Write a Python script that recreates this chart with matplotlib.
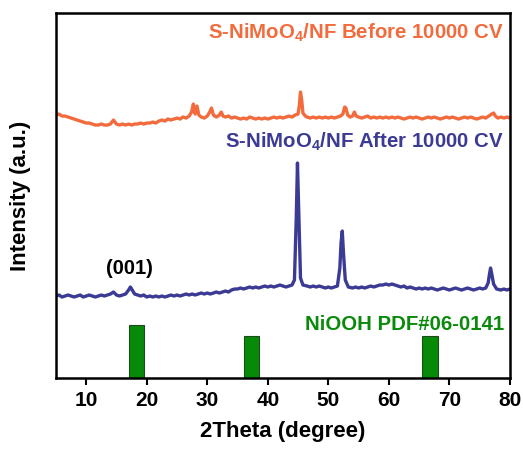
import matplotlib
matplotlib.use("Agg")
import matplotlib.pyplot as plt

plt.rcParams['font.family'] = ['Liberation Sans', 'DejaVu Sans']
plt.rcParams['font.weight'] = 'bold'
plt.rcParams['mathtext.fontset'] = 'custom'
plt.rcParams['mathtext.rm'] = 'Liberation Sans'
plt.rcParams['mathtext.bf'] = 'Liberation Sans:bold'

# Before 10000 CV (orange)
before_x = [5, 5.5, 6, 6.5, 7, 7.5, 8, 8.5, 9, 9.5,
            10, 10.5, 11, 11.5, 12, 12.5, 13, 13.5, 14, 14.5,
            15, 15.5, 16, 16.5, 17, 17.5, 18, 18.5, 19, 19.5,
            20, 20.5, 21, 21.5, 22, 22.5, 23, 23.5, 24, 24.5,
            25, 25.5, 26, 26.5, 27, 27.4, 27.7, 28.0, 28.3, 28.6,
            29, 29.5, 30, 30.4, 30.7, 31, 31.5, 32, 32.3, 32.6,
            33, 33.5, 34, 34.5, 35, 35.5, 36, 36.5, 37, 37.5,
            38, 38.5, 39, 39.5, 40, 40.5, 41, 41.5, 42, 42.5,
            43, 43.5, 44, 44.5, 45, 45.2, 45.4, 45.6, 45.8, 46.2,
            46.5, 47, 47.5, 48, 48.5, 49, 49.5, 50, 50.5, 51,
            51.5, 52, 52.4, 52.7, 52.9, 53.2, 53.6, 54, 54.3, 54.6,
            55, 55.5, 56, 56.5, 57, 57.5, 58, 58.5, 59, 59.5,
            60, 60.5, 61, 61.5, 62, 62.5, 63, 63.5, 64, 64.5,
            65, 65.5, 66, 66.5, 67, 67.5, 68, 68.5, 69, 69.5,
            70, 70.5, 71, 71.5, 72, 72.5, 73, 73.5, 74, 74.5,
            75, 75.5, 76, 76.5, 77, 77.3, 77.6, 78, 78.5, 79,
            79.5, 80]
before_y = [263, 264, 262, 262, 261, 260, 259, 258, 257, 256,
            255, 255, 254, 253, 253, 254, 253, 253, 254, 258,
            254, 253, 254, 253, 254, 253, 254, 254, 255, 254,
            255, 255, 256, 255, 257, 258, 257, 259, 258, 259,
            260, 259, 261, 260, 262, 266, 274, 264, 272, 263,
            261, 260, 262, 266, 270, 263, 261, 263, 266, 262,
            261, 262, 260, 261, 260, 259, 260, 259, 261, 260,
            259, 260, 259, 260, 259, 260, 261, 260, 261, 260,
            261, 262, 261, 263, 264, 272, 286, 278, 265, 262,
            261, 260, 261, 260, 261, 260, 261, 260, 261, 260,
            261, 262, 264, 271, 270, 263, 261, 262, 266, 262,
            261, 260, 261, 262, 260, 261, 260, 261, 260, 261,
            260, 261, 260, 261, 260, 259, 260, 261, 260, 261,
            260, 259, 260, 261, 260, 261, 260, 259, 260, 261,
            260, 261, 260, 259, 260, 261, 260, 261, 260, 259,
            260, 261, 260, 262, 264, 265, 262, 260, 261, 260,
            261, 260]

# After 10000 CV (navy)
after_x = [5, 5.5, 6, 6.5, 7, 7.5, 8, 8.5, 9, 9.5,
           10, 10.5, 11, 11.5, 12, 12.5, 13, 13.5, 14, 14.5,
           15, 15.5, 16, 16.5, 17, 17.3, 17.6, 18, 18.5, 19,
           19.5, 20, 20.5, 21, 21.5, 22, 22.5, 23, 23.5, 24,
           24.5, 25, 25.5, 26, 26.5, 27, 27.5, 28, 28.5, 29,
           29.5, 30, 30.5, 31, 31.5, 32, 32.5, 33, 33.5, 34,
           34.5, 35, 35.5, 36, 36.5, 37, 37.5, 38, 38.5, 39,
           39.5, 40, 40.5, 41, 41.5, 42, 42.5, 43, 43.5, 44,
           44.4, 44.7, 44.9, 45.1, 45.4, 45.8, 46.5, 47, 47.5, 48,
           48.5, 49, 49.5, 50, 50.5, 51, 51.5, 51.9, 52.1, 52.3,
           52.5, 52.8, 53.3, 54, 54.5, 55, 55.5, 56, 56.5, 57,
           57.5, 58, 58.5, 59, 59.5, 60, 60.5, 61, 61.5, 62,
           62.5, 63, 63.5, 64, 64.5, 65, 65.5, 66, 66.5, 67,
           67.5, 68, 68.5, 69, 69.5, 70, 70.5, 71, 71.5, 72,
           72.5, 73, 73.5, 74, 74.5, 75, 75.5, 76, 76.4, 76.6,
           76.8, 77.0, 77.3, 77.8, 78.5, 79, 79.5, 80]
after_y = [82, 83, 81, 82, 83, 82, 81, 82, 83, 81,
           82, 83, 82, 81, 82, 83, 82, 83, 84, 86,
           83, 82, 83, 84, 88, 91, 88, 84, 83, 82,
           83, 81, 82, 81, 82, 81, 82, 81, 82, 83,
           82, 83, 82, 83, 84, 83, 84, 83, 84, 85,
           84, 85, 84, 85, 86, 85, 86, 87, 86, 88,
           89, 89, 90, 89, 90, 91, 90, 91, 90, 91,
           92, 91, 92, 91, 92, 93, 92, 91, 92, 93,
           98, 160, 215, 170, 100, 93, 92, 91, 92, 91,
           92, 91, 90, 91, 90, 91, 92, 110, 135, 147,
           125, 98, 91, 90, 91, 90, 91, 90, 91, 92,
           91, 92, 93, 93, 94, 93, 94, 93, 92, 91,
           92, 90, 91, 90, 89, 90, 89, 90, 89, 90,
           89, 88, 89, 90, 89, 88, 89, 90, 89, 88,
           89, 90, 89, 88, 89, 90, 89, 90, 95, 103,
           110, 104, 94, 89, 88, 89, 88, 89]

# NiOOH PDF#06-0141 reference bars
ref_x = [18.3, 37.3, 66.8]
ref_h = [53, 42, 42]

xticks = [10, 20, 30, 40, 50, 60, 70, 80]

fig = plt.figure(figsize=(5.23, 4.5), dpi=100)
ax = fig.add_axes([0.107, 0.16, 0.868, 0.811])

ax.plot(before_x, before_y, color='#F26B3D', lw=2.4)
ax.plot(after_x, after_y, color='#3B3A94', lw=2.4)
ax.bar(ref_x, ref_h, width=2.55, color='#078A07', edgecolor='#1E4A1E', linewidth=0.8, bottom=0)

ax.set_xlim(5, 80)
ax.set_ylim(0, 365)
ax.set_xticks(xticks)
ax.set_yticks([])
ax.tick_params(axis='x', direction='out', length=5, width=1.5, labelsize=15, pad=4)
for lbl in ax.get_xticklabels():
    lbl.set_fontweight('bold')
for s in ax.spines.values():
    s.set_linewidth(1.8)

ax.set_xlabel('2Theta (degree)', fontsize=16, fontweight='bold', labelpad=8)
ax.set_ylabel('Intensity (a.u.)', fontsize=16, fontweight='bold', labelpad=18)

ax.text(79, 345, 'S-NiMoO$_\\mathbf{4}$/NF Before 10000 CV', color='#F26B3D', fontsize=14.7,
        fontweight='bold', ha='right', va='center')
ax.text(79, 236, 'S-NiMoO$_\\mathbf{4}$/NF After 10000 CV', color='#3B3A94', fontsize=14.7,
        fontweight='bold', ha='right', va='center')
ax.text(17.2, 110, '(001)', color='black', fontsize=14.5, fontweight='bold', ha='center', va='center')
ax.text(79, 54, 'NiOOH PDF#06-0141', color='#0A8A0A', fontsize=14.7, fontweight='bold',
        ha='right', va='center')

fig.savefig('out.png', dpi=100)
